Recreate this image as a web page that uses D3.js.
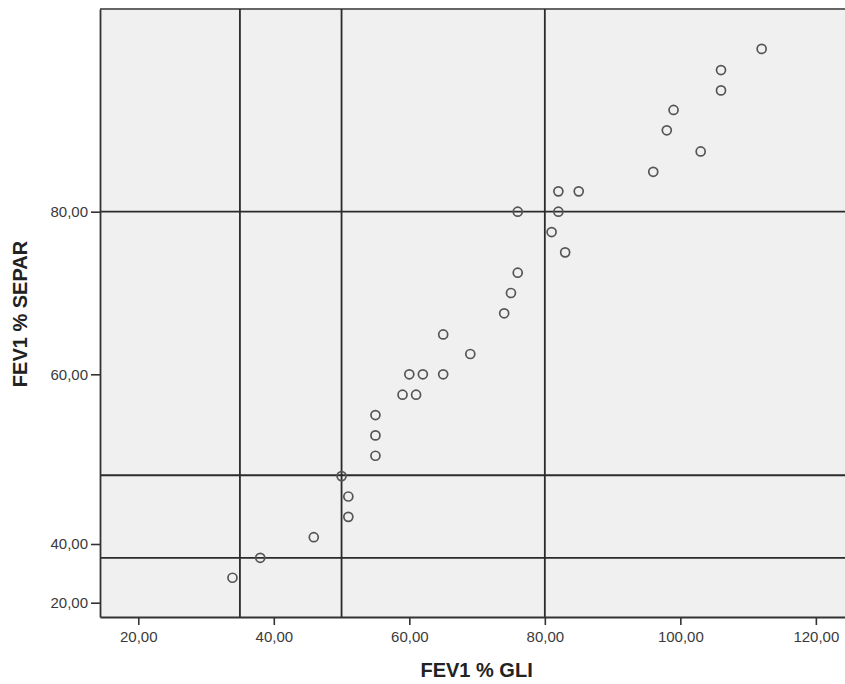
<!DOCTYPE html>
<html>
<head>
<meta charset="utf-8">
<script src="https://cdn.jsdelivr.net/npm/d3@7/dist/d3.min.js"></script>
<style>
    body { margin: 0; background: #fff; }
    svg { display: block; font-family: "Liberation Sans", Arial, sans-serif; }
</style>
</head>
<body>
<svg id="chart"></svg>
<script>
// FEV1 % GLI (x) against FEV1 % SEPAR (y), one entry per subject
const gliValues = [33.9, 38.0, 45.9, 51.0, 51.0, 50.0, 55.0, 55.0, 55.0, 59.0, 61.0,
    60.0, 62.0, 65.0, 69.0, 65.0, 74.0, 75.0, 76.0, 83.0, 81.0, 76.0,
    82.0, 82.0, 85.0, 96.0, 103.0, 98.0, 99.0, 106.0, 106.0, 112.0];
const separValues = [28.5, 35.3, 40.8, 43.2, 45.6, 48.0, 50.4, 52.8, 55.2, 57.6, 57.6,
    60.0, 60.0, 60.0, 62.5, 64.9, 67.5, 70.0, 72.5, 75.0, 77.5, 80.0,
    80.0, 82.5, 82.5, 84.9, 87.4, 90.0, 92.5, 94.9, 97.4, 100.0];

const xTicks = [20, 40, 60, 80, 100, 120];
const yTicks = [20, 40, 60, 80];

// reference lines
const refX = [35, 50, 80];
const refY = [35.3, 48.1, 80];

const xTitle = "FEV1 % GLI";
const yTitle = "FEV1 % SEPAR";

const width = 845, height = 684;
const margin = { top: 9, right: 0, bottom: 67, left: 100 };
const innerW = width - margin.left - margin.right;
const innerH = height - margin.top - margin.bottom;

const svg = d3.select("#chart")
    .attr("width", width)
    .attr("height", height);

const g = svg.append("g")
    .attr("transform", `translate(${margin.left}, ${margin.top})`);

const x = d3.scaleLinear()
    .domain([14.35, 124.3])
    .range([0, innerW]);

// the SEPAR axis in the original is not evenly spaced, so the scale is piecewise
const y = d3.scaleLinear()
    .domain([15.1, 20, 40, 60, 80, 104.9])
    .range([innerH, innerH - 14.3, innerH - 73, innerH - 242.7, innerH - 405.3, 0]);

const fmt = d => d3.format(".2f")(d).replace(".", ",");

// plot background
g.append("rect")
    .attr("width", innerW)
    .attr("height", innerH)
    .attr("fill", "#f0f0f0");

// top border
g.append("line")
    .attr("x1", 0).attr("x2", innerW)
    .attr("y1", 0).attr("y2", 0)
    .attr("stroke", "#666")
    .attr("stroke-width", 2);

// reference lines
g.selectAll(".ref-x")
    .data(refX)
    .join("line")
    .attr("class", "ref-x")
    .attr("x1", d => x(d)).attr("x2", d => x(d))
    .attr("y1", 0).attr("y2", innerH)
    .attr("stroke", "#2b2b2b")
    .attr("stroke-width", 1.8);

g.selectAll(".ref-y")
    .data(refY)
    .join("line")
    .attr("class", "ref-y")
    .attr("x1", 0).attr("x2", innerW)
    .attr("y1", d => y(d)).attr("y2", d => y(d))
    .attr("stroke", "#2b2b2b")
    .attr("stroke-width", 1.8);

// axes
const xAxis = g.append("g")
    .attr("transform", `translate(0, ${innerH})`)
    .call(d3.axisBottom(x).tickValues(xTicks).tickFormat(fmt)
        .tickSize(8).tickSizeOuter(0).tickPadding(6));

const yAxis = g.append("g")
    .call(d3.axisLeft(y).tickValues(yTicks).tickFormat(fmt)
        .tickSize(9).tickSizeOuter(0).tickPadding(3));

[xAxis, yAxis].forEach(ax => {
    ax.select(".domain").attr("stroke", "#333").attr("stroke-width", 1.8);
    ax.selectAll(".tick line").attr("stroke", "#333").attr("stroke-width", 1.6);
    ax.selectAll(".tick text")
        .attr("fill", "#3a3a3a")
        .style("font-size", "15px")
        .style("font-family", "'Liberation Sans', Arial, sans-serif");
});

// points
const points = gliValues.map((v, i) => ({ gli: v, separ: separValues[i] }));

g.selectAll(".dot")
    .data(points)
    .join("circle")
    .attr("class", "dot")
    .attr("cx", d => x(d.gli))
    .attr("cy", d => y(d.separ))
    .attr("r", 4.5)
    .attr("fill", "none")
    .attr("stroke", "#555")
    .attr("stroke-width", 1.7);

// axis titles
svg.append("text")
    .attr("x", margin.left + x(70) - 0.5)
    .attr("y", 677)
    .attr("text-anchor", "middle")
    .style("font-size", "20px")
    .style("font-weight", "bold")
    .attr("fill", "#222")
    .text(xTitle);

svg.append("text")
    .attr("transform", `translate(27, 314) rotate(-90)`)
    .attr("text-anchor", "middle")
    .style("font-size", "20px")
    .style("font-weight", "bold")
    .attr("fill", "#222")
    .text(yTitle);
</script>
</body>
</html>
